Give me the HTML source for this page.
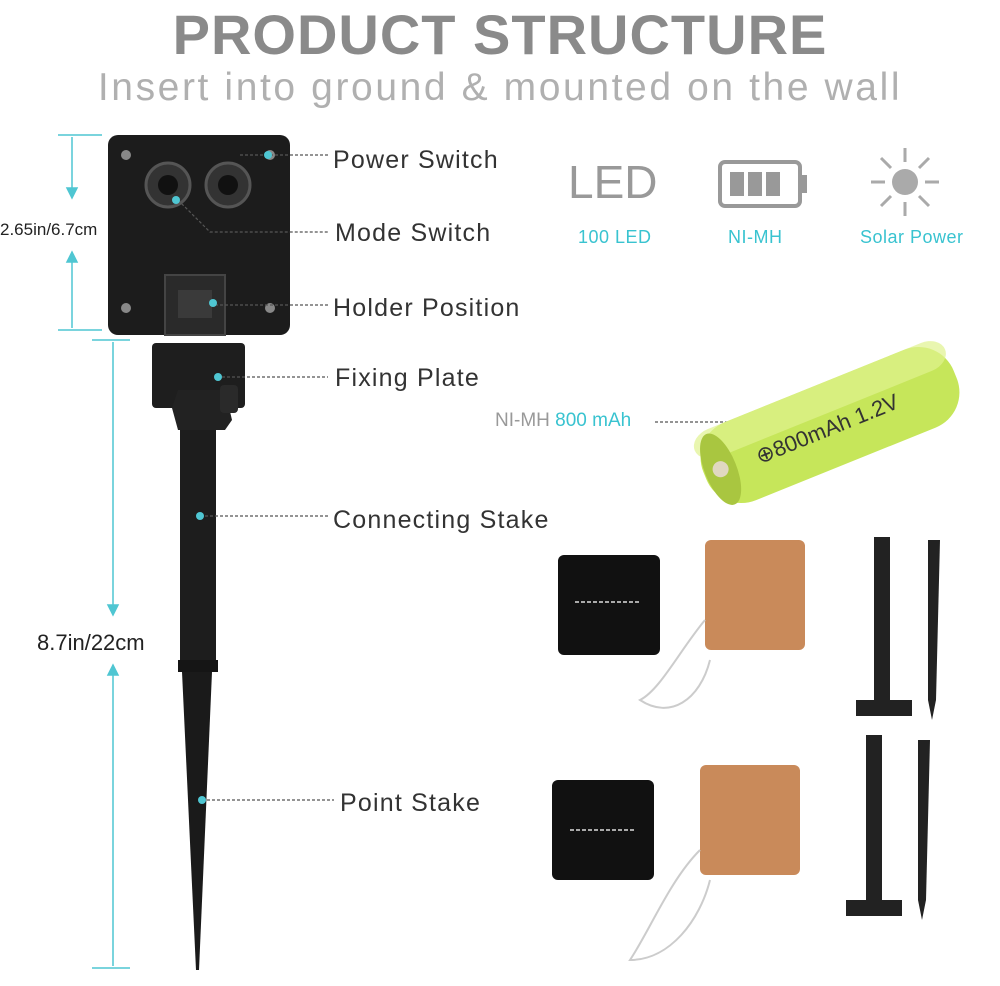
<!DOCTYPE html>
<html><head><meta charset="utf-8"><style>
body{margin:0;width:1000px;height:986px;background:#fff;position:relative;overflow:hidden;font-family:"Liberation Sans",sans-serif}
.a{position:absolute;white-space:nowrap}
.lbl{font-size:25px;color:#333;letter-spacing:1.2px}
.cy{color:#39c3d0;font-size:18px;letter-spacing:0.5px}
</style></head><body>
<div class="a" style="left:0;width:1000px;top:2px;text-align:center;font-size:56px;font-weight:900;color:#8a8a8a;letter-spacing:1px">PRODUCT STRUCTURE</div>
<div class="a" style="left:0;width:1000px;top:66px;text-align:center;font-size:39px;color:#b0b0b0;letter-spacing:2.6px">Insert into ground &amp; mounted on the wall</div>

<svg class="a" style="left:0;top:0" width="1000" height="986">
<g stroke="#4fc6d2" stroke-width="1.5" fill="#4fc6d2">
<line x1="58" y1="135" x2="102" y2="135"/><line x1="58" y1="330" x2="102" y2="330"/>
<line x1="72" y1="137" x2="72" y2="195"/><line x1="72" y1="255" x2="72" y2="328"/>
<path d="M67 188 L72 198 L77 188Z"/><path d="M67 262 L72 252 L77 262Z"/>
<line x1="92" y1="340" x2="130" y2="340"/><line x1="92" y1="968" x2="130" y2="968"/>
<line x1="113" y1="342" x2="113" y2="612"/><line x1="113" y1="670" x2="113" y2="966"/>
<path d="M108 605 L113 615 L118 605Z"/><path d="M108 675 L113 665 L118 675Z"/>
</g>
<rect x="108" y="135" width="182" height="200" rx="10" fill="#1c1c1c"/>
<circle cx="168" cy="185" r="22" fill="#333" stroke="#555" stroke-width="3"/>
<circle cx="228" cy="185" r="22" fill="#333" stroke="#555" stroke-width="3"/>
<circle cx="168" cy="185" r="10" fill="#111"/><circle cx="228" cy="185" r="10" fill="#111"/>
<g fill="#888"><circle cx="126" cy="155" r="5"/><circle cx="270" cy="155" r="5"/><circle cx="126" cy="308" r="5"/><circle cx="270" cy="308" r="5"/></g>
<rect x="165" y="275" width="60" height="60" fill="#2a2a2a" stroke="#444" stroke-width="2"/>
<rect x="178" y="290" width="34" height="28" fill="#3a3a3a"/>
<rect x="152" y="343" width="93" height="65" rx="4" fill="#1e1e1e"/>
<path d="M172 408 L178 390 L225 390 L232 420 L225 430 L178 430Z" fill="#222"/>
<rect x="220" y="385" width="18" height="28" rx="4" fill="#2a2a2a"/>
<rect x="180" y="430" width="36" height="235" fill="#1d1d1d"/>
<rect x="178" y="660" width="40" height="12" fill="#151515"/>
<path d="M182 672 L212 672 L199 970 L196 970Z" fill="#1a1a1a"/>
<g stroke="#555" stroke-width="1.2" stroke-dasharray="3 2" fill="none">
<line x1="240" y1="155" x2="328" y2="155"/>
<path d="M178 200 L210 232 L328 232"/>
<line x1="215" y1="305" x2="328" y2="305"/>
<line x1="222" y1="377" x2="328" y2="377"/>
<line x1="200" y1="516" x2="328" y2="516"/>
<line x1="202" y1="800" x2="334" y2="800"/>
<line x1="655" y1="422" x2="790" y2="422"/>
</g>
<g fill="#4fc6d2"><circle cx="268" cy="155" r="4"/><circle cx="176" cy="200" r="4"/><circle cx="213" cy="303" r="4"/><circle cx="218" cy="377" r="4"/><circle cx="200" cy="516" r="4"/><circle cx="202" cy="800" r="4"/><circle cx="790" cy="422" r="3"/></g>
<rect x="720" y="162" width="80" height="44" rx="5" fill="none" stroke="#999" stroke-width="4"/>
<rect x="800" y="175" width="7" height="18" fill="#999"/>
<g fill="#999"><rect x="730" y="172" width="14" height="24"/><rect x="748" y="172" width="14" height="24"/><rect x="766" y="172" width="14" height="24"/></g>
<circle cx="905" cy="182" r="13" fill="#aaa"/>
<g stroke="#aaa" stroke-width="3">
<line x1="905" y1="148" x2="905" y2="162"/><line x1="905" y1="202" x2="905" y2="216"/>
<line x1="871" y1="182" x2="885" y2="182"/><line x1="925" y1="182" x2="939" y2="182"/>
<line x1="881" y1="158" x2="891" y2="168"/><line x1="919" y1="196" x2="929" y2="206"/>
<line x1="929" y1="158" x2="919" y2="168"/><line x1="891" y1="196" x2="881" y2="206"/>
</g>
<g transform="translate(830,425) rotate(-22)">
<rect x="-135" y="-42" width="270" height="84" rx="38" fill="#c6e65a"/>
<rect x="-135" y="-42" width="270" height="30" rx="20" fill="#dff28f" opacity="0.7"/>
<ellipse cx="-118" cy="0" rx="16" ry="38" fill="#a9c640"/>
<circle cx="-118" cy="0" r="8" fill="#e0d8c0"/>
<text x="-80" y="10" font-size="22" fill="#333" font-family="Liberation Sans">⊕800mAh 1.2V</text>
</g>
<g>
<rect x="558" y="555" width="102" height="100" rx="6" fill="#111"/>
<line x1="575" y1="602" x2="640" y2="602" stroke="#aaa" stroke-width="2" stroke-dasharray="4 2"/>
<rect x="705" y="540" width="100" height="110" rx="6" fill="#c98a5a"/>
<path d="M705 620 C680 650 660 690 640 700 C670 720 700 700 710 660" stroke="#ccc" fill="none" stroke-width="2"/>
<rect x="874" y="537" width="16" height="170" fill="#222"/>
<rect x="856" y="700" width="56" height="16" fill="#222"/>
<path d="M928 540 L940 540 L936 700 L932 720 L928 700Z" fill="#222"/>
<rect x="552" y="780" width="102" height="100" rx="6" fill="#111"/>
<line x1="570" y1="830" x2="635" y2="830" stroke="#aaa" stroke-width="2" stroke-dasharray="4 2"/>
<rect x="700" y="765" width="100" height="110" rx="6" fill="#c98a5a"/>
<path d="M700 850 C670 880 650 930 630 960 C670 960 700 920 710 880" stroke="#ccc" fill="none" stroke-width="2"/>
<rect x="866" y="735" width="16" height="170" fill="#222"/>
<rect x="846" y="900" width="56" height="16" fill="#222"/>
<path d="M918 740 L930 740 L926 900 L922 920 L918 900Z" fill="#222"/>
</g>
</svg>

<div class="a" style="left:0;top:220px;font-size:17px;color:#222;background:#fff">2.65in/6.7cm</div>
<div class="a" style="left:37px;top:630px;font-size:22px;color:#222;background:#fff">8.7in/22cm</div>
<div class="a lbl" style="left:333px;top:146px">Power Switch</div>
<div class="a lbl" style="left:335px;top:219px">Mode Switch</div>
<div class="a lbl" style="left:333px;top:294px">Holder Position</div>
<div class="a lbl" style="left:335px;top:364px">Fixing Plate</div>
<div class="a lbl" style="left:333px;top:506px">Connecting Stake</div>
<div class="a lbl" style="left:340px;top:789px">Point Stake</div>
<div class="a" style="left:568px;top:155px;font-size:46px;color:#999">LED</div>
<div class="a cy" style="left:578px;top:227px">100 LED</div>
<div class="a cy" style="left:728px;top:227px">NI-MH</div>
<div class="a cy" style="left:860px;top:227px">Solar Power</div>
<div class="a" style="left:495px;top:410px;font-size:19px;color:#999">NI-MH <span style="color:#39c3d0">800 mAh</span></div>
</body></html>
